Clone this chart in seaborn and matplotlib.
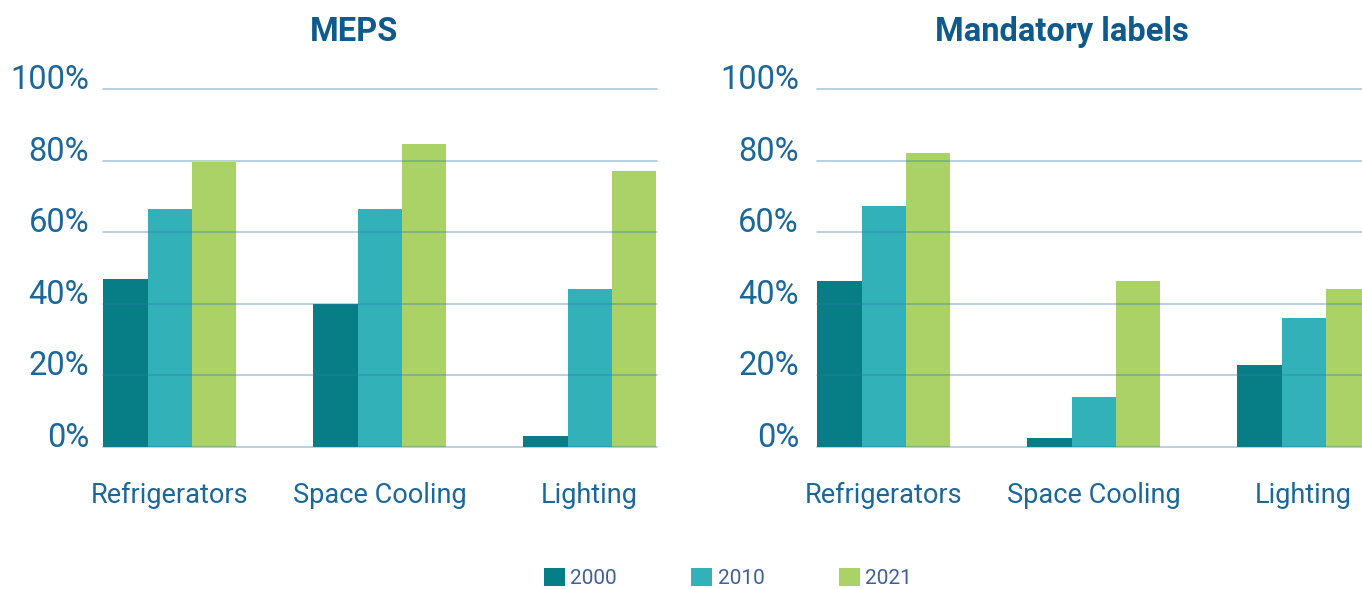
import numpy as np
import pandas as pd
import matplotlib
matplotlib.use("Agg")
import matplotlib.pyplot as plt
import seaborn as sns

# values (share of energy use covered, %)
categories = ["Refrigerators", "Space Cooling", "Lighting"]
years = ["2000", "2010", "2021"]
meps_2000 = [47, 40, 3]
meps_2010 = [66.5, 66.5, 44]
meps_2021 = [79.5, 84.5, 77]
labels_2000 = [46.5, 2.5, 23]
labels_2010 = [67.3, 14, 36]
labels_2021 = [82, 46.5, 44]

panel_titles = ["MEPS", "Mandatory labels"]
colors = ["#077d85", "#33b1b9", "#abd267"]
TICK_COLOR = "#1b679b"
TITLE_COLOR = "#0e5a8c"
LEGEND_COLOR = "#3e5f98"


def to_long(v2000, v2010, v2021):
    rows = []
    for yr, vals in zip(years, [v2000, v2010, v2021]):
        for cat, v in zip(categories, vals):
            rows.append({"category": cat, "year": yr, "value": v})
    return pd.DataFrame(rows)


panels = [to_long(meps_2000, meps_2010, meps_2021),
          to_long(labels_2000, labels_2010, labels_2021)]

sns.set_style("white")
plt.rcParams["font.family"] = ["Roboto", "DejaVu Sans"]

W, H = 1362, 589
fig = plt.figure(figsize=(W / 100, H / 100), dpi=100)

ax_left = fig.add_axes([103 / W, (H - 447) / H, 554 / W, 358 / H])
ax_right = fig.add_axes([817 / W, (H - 447) / H, 554 / W, 358 / H])

title_x = [(354 - 103) / 554, (1062 - 817) / 554]
ytick_pad = [10, 13]

for ax, df, title, tx, ypad in zip([ax_left, ax_right], panels, panel_titles, title_x, ytick_pad):
    sns.barplot(data=df, x="category", y="value", hue="year", order=categories,
                hue_order=years, palette=colors, saturation=1, width=0.63,
                linewidth=0, ax=ax, legend=True)
    ax.set_ylim(0, 100)
    ax.set_xlim(-0.317, 2.321)
    ax.set_yticks(np.arange(0, 101, 20))
    ax.set_yticklabels([f"{v}%" for v in range(0, 101, 20)])
    ax.yaxis.grid(True, color="#2f7aa8", alpha=0.4, linewidth=1.2, clip_on=False)
    ax.set_axisbelow(False)
    for s in ax.spines.values():
        s.set_visible(False)
    ax.tick_params(axis="y", length=0, pad=ypad, labelsize=23.5, labelcolor=TICK_COLOR)
    ax.tick_params(axis="x", length=0, pad=25, labelsize=19.5, labelcolor=TICK_COLOR)
    plt.setp(ax.get_yticklabels(), va="baseline")
    ax.set_xlabel("")
    ax.set_ylabel("")
    ax.set_title(title, x=tx, y=1 + 57 / 358, va="center", pad=0,
                 fontsize=23.5, fontweight="bold", color=TITLE_COLOR)
    handles, lbls = ax.get_legend_handles_labels()
    ax.get_legend().remove()

leg = fig.legend(handles, lbls, loc="center", bbox_to_anchor=(728 / W, 1 - 578 / H),
                 ncol=3, frameon=False, fontsize=15, handlelength=1.0, handleheight=1.0,
                 handletextpad=0.25, columnspacing=3.6, borderaxespad=0)
for t in leg.get_texts():
    t.set_color(LEGEND_COLOR)

fig.savefig("out.png", dpi=100)
